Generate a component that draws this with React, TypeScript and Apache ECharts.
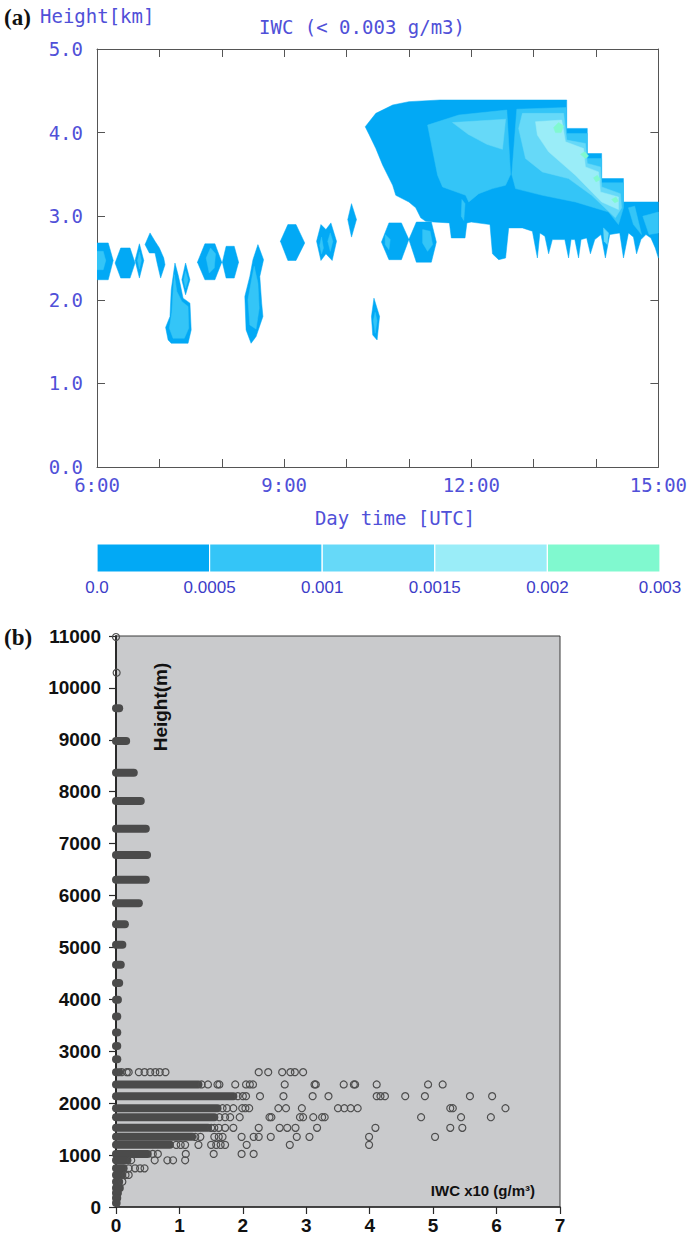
import React, { useEffect, useRef } from 'react';
import * as echarts from 'echarts';

// ---------- Panel (a): IWC contour ----------
const colorbarLabels = ['0.0', '0.0005', '0.001', '0.0015', '0.002', '0.003'];
const colorbarSegments = [0, 1, 2, 3, 4];
const levelColors = ['#02a9f5', '#34c5f7', '#66d9f8', '#9aedf8', '#80f9cf'];

// [level, [[time(h), height(km)], ...]]
const contourShapes: [number, number[][]][] = [
  // level 0 (0.0 - 0.0005)
  [0, [[6.0, 2.68], [6.18, 2.68], [6.26, 2.47], [6.18, 2.24], [6.0, 2.24]]],
  [0, [[6.29, 2.44], [6.38, 2.62], [6.53, 2.62], [6.61, 2.44], [6.53, 2.26], [6.38, 2.26]]],
  [0, [[6.68, 2.67], [6.75, 2.47], [6.68, 2.26], [6.61, 2.47]]],
  [0, [[6.85, 2.8], [6.93, 2.7], [7.0, 2.62], [7.07, 2.5], [7.09, 2.42], [7.02, 2.26], [6.97, 2.42], [6.93, 2.56], [6.84, 2.56], [6.77, 2.66]]],
  [0, [[7.25, 2.44], [7.3, 2.3], [7.33, 2.2], [7.38, 2.02], [7.49, 1.96], [7.51, 1.64], [7.46, 1.48], [7.19, 1.48], [7.14, 1.52], [7.1, 1.67], [7.17, 1.8], [7.19, 2.12]]],
  [0, [[7.42, 2.44], [7.49, 2.24], [7.42, 2.06], [7.36, 2.24]]],
  [0, [[7.61, 2.45], [7.73, 2.67], [7.89, 2.67], [8.0, 2.45], [7.89, 2.24], [7.73, 2.24]]],
  [0, [[8.01, 2.45], [8.07, 2.64], [8.2, 2.64], [8.27, 2.45], [8.2, 2.26], [8.07, 2.26]]],
  [0, [[8.58, 2.66], [8.67, 2.48], [8.61, 2.28], [8.64, 1.96], [8.66, 1.8], [8.55, 1.56], [8.47, 1.48], [8.39, 1.64], [8.37, 2.04], [8.45, 2.28], [8.5, 2.48]]],
  [0, [[8.94, 2.7], [9.06, 2.9], [9.19, 2.9], [9.33, 2.68], [9.19, 2.47], [9.06, 2.47]]],
  [0, [[9.52, 2.7], [9.59, 2.9], [9.67, 2.84], [9.75, 2.92], [9.84, 2.7], [9.77, 2.47], [9.67, 2.55], [9.59, 2.47]]],
  [0, [[10.08, 3.15], [10.16, 2.96], [10.08, 2.75], [10.02, 2.96]]],
  [0, [[10.44, 2.02], [10.53, 1.8], [10.49, 1.52], [10.42, 1.58], [10.4, 1.8]]],
  [0, [[10.56, 2.69], [10.68, 2.92], [10.88, 2.92], [11.0, 2.72], [10.88, 2.48], [10.68, 2.48]]],
  [0, [[11.0, 2.72], [11.12, 2.93], [11.36, 2.93], [11.44, 2.69], [11.36, 2.45], [11.12, 2.45]]],
  [0, [[10.3, 4.07], [10.47, 4.23], [10.74, 4.33], [11.0, 4.37], [11.5, 4.39], [13.53, 4.39], [13.53, 4.05], [13.86, 4.05], [13.86, 3.75], [14.09, 3.75], [14.09, 3.45], [14.44, 3.45], [14.44, 3.17], [15.0, 3.17], [15.0, 2.5], [14.95, 2.62], [14.88, 2.74], [14.8, 2.78], [14.72, 2.72], [14.65, 2.55], [14.6, 2.75], [14.52, 2.8], [14.44, 2.5], [14.38, 2.8], [14.22, 2.78], [14.15, 2.5], [14.08, 2.78], [13.98, 2.72], [13.91, 2.55], [13.85, 2.74], [13.76, 2.72], [13.72, 2.5], [13.66, 2.72], [13.6, 2.72], [13.56, 2.5], [13.5, 2.72], [13.3, 2.72], [13.24, 2.55], [13.18, 2.76], [13.1, 2.8], [13.06, 2.5], [12.98, 2.82], [12.82, 2.86], [12.6, 2.86], [12.55, 2.5], [12.44, 2.48], [12.34, 2.55], [12.3, 2.9], [12.0, 2.93], [11.93, 2.92], [11.9, 2.74], [11.68, 2.74], [11.65, 2.92], [11.4, 2.93], [11.27, 2.94], [11.19, 2.98], [11.11, 3.1], [11.0, 3.17], [10.79, 3.25], [10.74, 3.37], [10.58, 3.61], [10.47, 3.81], [10.36, 3.98]]],
  // level 1 (0.0005 - 0.001)
  [1, [[6.0, 2.58], [6.1, 2.58], [6.14, 2.47], [6.1, 2.36], [6.0, 2.36]]],
  [1, [[6.68, 2.57], [6.71, 2.47], [6.68, 2.37], [6.65, 2.47]]],
  [1, [[7.24, 2.3], [7.28, 2.1], [7.36, 1.98], [7.46, 1.92], [7.47, 1.66], [7.4, 1.54], [7.22, 1.54], [7.16, 1.66], [7.2, 1.85], [7.22, 2.1]]],
  [1, [[7.42, 2.34], [7.46, 2.24], [7.42, 2.14], [7.39, 2.24]]],
  [1, [[7.75, 2.5], [7.82, 2.62], [7.9, 2.55], [7.88, 2.38], [7.8, 2.32]]],
  [1, [[8.52, 2.4], [8.58, 2.2], [8.6, 1.9], [8.55, 1.65], [8.45, 1.7], [8.42, 2.0], [8.48, 2.25]]],
  [1, [[9.6, 2.75], [9.63, 2.62], [9.6, 2.55], [9.57, 2.65]]],
  [1, [[9.74, 2.8], [9.78, 2.7], [9.74, 2.58], [9.7, 2.7]]],
  [1, [[10.46, 1.85], [10.49, 1.75], [10.46, 1.6], [10.43, 1.75]]],
  [1, [[10.62, 2.78], [10.7, 2.72], [10.68, 2.6], [10.62, 2.66]]],
  [1, [[11.22, 2.84], [11.34, 2.82], [11.38, 2.66], [11.3, 2.58], [11.22, 2.68]]],
  [1, [[11.3, 4.09], [11.8, 4.21], [12.57, 4.27], [12.63, 3.5], [12.55, 3.37], [12.34, 3.33], [12.12, 3.27], [11.96, 3.17], [11.91, 3.25], [11.54, 3.35], [11.46, 3.49]]],
  [1, [[12.73, 4.28], [13.52, 4.3], [13.53, 3.99], [13.86, 3.99], [13.86, 3.69], [14.09, 3.69], [14.09, 3.4], [14.44, 3.4], [14.44, 3.1], [14.36, 2.9], [14.2, 3.05], [13.67, 3.17], [13.14, 3.25], [12.71, 3.33], [12.65, 3.5]]],
  [1, [[14.52, 3.1], [14.62, 3.12], [14.73, 2.78], [14.6, 2.9]]],
  [1, [[14.75, 3.0], [15.0, 3.05], [15.0, 2.8], [14.85, 2.78]]],
  [1, [[11.85, 3.2], [11.9, 3.15], [11.88, 2.95], [11.84, 3.0]]],
  // level 2 (0.001 - 0.0015)
  [2, [[11.7, 4.12], [12.55, 4.16], [12.5, 3.8], [12.25, 3.86], [11.95, 3.98]]],
  [2, [[12.82, 4.23], [13.48, 4.23], [13.53, 3.91], [13.83, 3.87], [13.86, 3.63], [14.07, 3.59], [14.09, 3.35], [14.39, 3.27], [14.41, 3.1], [14.31, 2.98], [13.93, 3.25], [13.56, 3.45], [13.14, 3.53], [12.87, 3.69], [12.76, 4.05]]],
  [2, [[14.12, 2.86], [14.2, 2.8], [14.18, 2.66], [14.13, 2.7]]],
  // level 3 (0.0015 - 0.002)
  [3, [[13.03, 4.13], [13.45, 4.15], [13.51, 3.89], [13.8, 3.81], [13.83, 3.59], [14.04, 3.53], [14.07, 3.29], [14.36, 3.23], [14.36, 3.08], [14.09, 3.17], [13.67, 3.49], [13.24, 3.77], [13.06, 3.97]]],
  // level 4 (0.002 - 0.003)
  [4, [[13.32, 4.06], [13.4, 4.12], [13.48, 4.08], [13.44, 4.0], [13.35, 4.0]]],
  [4, [[13.75, 3.74], [13.82, 3.77], [13.88, 3.72], [13.83, 3.69]]],
  [4, [[13.96, 3.46], [14.02, 3.49], [14.07, 3.44], [14.0, 3.41]]],
  [4, [[14.25, 3.2], [14.32, 3.23], [14.36, 3.18], [14.3, 3.16]]],
];

// ---------- Panel (b): IWC x10 vs height scatter ----------
// Dense (overlapping) runs of points: [height m, xStart, xEnd]
const denseRuns: number[][] = [
  [9607, 0, 0.05], [8978, 0, 0.16], [8367, 0, 0.28], [7822, 0, 0.39],
  [7289, 0, 0.47], [6783, 0, 0.49], [6302, 0, 0.47], [5853, 0, 0.36],
  [5449, 0, 0.14], [5050, 0, 0.1], [4665, 0, 0.075], [4313, 0, 0.05],
  [3991, 0, 0.03], [3670, 0, 0.02], [3362, 0, 0.02], [3100, 0, 0.02],
  [2844, 0, 0.02], [2598, 0, 0.05], [2361, 0, 1.3], [2135, 0, 1.85],
  [1903, 0, 1.6], [1730, 0, 1.55], [1525, 0, 1.45], [1351, 0, 1.2],
  [1197, 0, 0.85], [1023, 0, 0.5], [900, 0, 0.18], [745, 0, 0.12],
  [618, 0, 0.1], [488, 0, 0.05], [367, 0, 0.06], [270, 0, 0.03],
  [174, 0, 0.02], [77, 0, 0.01],
];

// Individually visible points: [height m, [x values]]
const sparseRows: [number, number[]][] = [
  [10980, [0]],
  [10293, [0.01]],
  [2598, [0.09, 0.17, 0.2, 0.36, 0.45, 0.54, 0.62, 0.69, 0.78, 2.25, 2.4, 2.62, 2.75, 2.82, 2.95]],
  [2361, [1.35, 1.45, 1.6, 1.63, 1.88, 2.05, 2.11, 2.16, 2.66, 3.13, 3.15, 3.59, 3.75, 3.77, 4.11, 4.92, 5.15]],
  [2135, [1.92, 2.0, 2.05, 2.27, 2.64, 3.1, 3.35, 4.11, 4.17, 4.24, 4.56, 4.87, 5.58, 5.93]],
  [1903, [1.68, 1.75, 1.85, 1.99, 2.04, 2.1, 2.56, 2.68, 2.93, 3.5, 3.6, 3.7, 3.81, 5.27, 5.31, 6.14]],
  [1730, [1.63, 1.72, 1.8, 1.95, 2.42, 2.45, 2.9, 2.95, 3.11, 3.25, 3.29, 4.81, 5.44, 5.91]],
  [1525, [1.5, 1.55, 1.62, 1.72, 1.85, 2.25, 2.58, 2.7, 2.83, 3.17, 4.09, 5.27, 5.46]],
  [1351, [1.25, 1.33, 1.55, 1.62, 1.68, 1.98, 2.17, 2.25, 2.44, 2.85, 3.05, 3.99, 5.03]],
  [1197, [0.95, 1.02, 1.09, 1.3, 1.5, 1.58, 1.65, 1.72, 2.06, 2.74, 3.99]],
  [1023, [0.58, 0.66, 1.1, 1.54, 1.98, 2.17]],
  [900, [0.24, 0.61, 0.81, 0.9, 1.09]],
  [745, [0.2, 0.3, 0.38, 0.45]],
  [618, [0.15, 0.2]],
  [488, [0.1]],
];

const blue = '#5050d8';
const mono = '"DejaVu Sans Mono", monospace';
const sans = '"Liberation Sans", Arial, sans-serif';
const serif = '"Liberation Serif", "DejaVu Serif", serif';

const frameAxisA = {
  axisLine: { show: true, onZero: false, lineStyle: { color: '#555', width: 1 } },
  axisTick: { show: true, inside: true, length: 8, lineStyle: { color: '#555', width: 1 } },
  splitLine: { show: false },
};

const App = () => {
  const ref = useRef<HTMLDivElement>(null);
  useEffect(() => {
    const chart = echarts.init(ref.current!, null, { renderer: 'svg' });
    const scatterData = sparseRows.flatMap(([h, xs]) => xs.map((x) => [x, h]));
    chart.setOption({
      animation: false,
      backgroundColor: '#ffffff',
      grid: [
        { left: 97, top: 49, width: 563, height: 418 },
        { left: 97, top: 544, width: 563, height: 28 },
        { left: 116, top: 636, width: 444, height: 571, show: true, backgroundColor: '#c9cacc', borderColor: '#3a3a3a', borderWidth: 1 },
      ],
      xAxis: [
        {
          gridIndex: 0, type: 'value', min: 6, max: 15, interval: 1, position: 'bottom', ...frameAxisA,
          axisLabel: { showMinLabel: true, showMaxLabel: true, formatter: (v: number) => (v % 3 === 0 ? `${v}:00` : ''), color: blue, fontFamily: mono, fontSize: 19, margin: 8 },
        },
        { gridIndex: 0, type: 'value', min: 6, max: 15, interval: 1, position: 'top', ...frameAxisA, axisLabel: { show: false } },
        {
          gridIndex: 1, type: 'value', min: 0, max: 5, interval: 1,
          axisLine: { show: false }, axisTick: { show: false }, splitLine: { show: false },
          axisLabel: { showMinLabel: true, showMaxLabel: true, formatter: (v: number) => colorbarLabels[v], color: '#3c3cc8', fontFamily: sans, fontSize: 17, margin: 7 },
        },
        {
          gridIndex: 2, type: 'value', min: 0, max: 7, interval: 1,
          axisLine: { show: true, onZero: false, lineStyle: { color: '#2a2a2a', width: 1.5 } },
          axisTick: { show: true, length: 7, lineStyle: { color: '#2a2a2a', width: 1.2 } },
          splitLine: { show: false },
          axisLabel: { showMinLabel: true, showMaxLabel: true, formatter: (v: number) => String(v), color: '#111', fontWeight: 'bold', fontSize: 19, fontFamily: sans, margin: 9 },
        },
      ],
      yAxis: [
        {
          gridIndex: 0, type: 'value', min: 0, max: 5, interval: 1, position: 'left', ...frameAxisA,
          axisLabel: { showMinLabel: true, showMaxLabel: true, formatter: (v: number) => v.toFixed(1), color: blue, fontFamily: mono, fontSize: 19, margin: 14 },
        },
        { gridIndex: 0, type: 'value', min: 0, max: 5, interval: 1, position: 'right', ...frameAxisA, axisLabel: { show: false } },
        { gridIndex: 1, type: 'value', min: 0, max: 1, show: false },
        {
          gridIndex: 2, type: 'value', min: 0, max: 11000, interval: 1000,
          axisLine: { show: true, onZero: false, lineStyle: { color: '#2a2a2a', width: 2 } },
          axisTick: { show: true, length: 7, lineStyle: { color: '#2a2a2a', width: 1.2 } },
          splitLine: { show: false },
          axisLabel: { showMinLabel: true, showMaxLabel: true, formatter: (v: number) => String(v), color: '#111', fontWeight: 'bold', fontSize: 19, fontFamily: sans, margin: 15 },
        },
      ],
      series: [
        {
          type: 'custom', xAxisIndex: 0, yAxisIndex: 0, clip: true,
          data: contourShapes.map((s, i) => [s[1][0][0], s[1][0][1], i]),
          encode: { x: 0, y: 1 },
          renderItem: (params: any, api: any) => {
            const [lvl, pts] = contourShapes[params.dataIndex];
            return {
              type: 'polygon',
              shape: { points: pts.map((p) => api.coord(p)) },
              style: { fill: levelColors[lvl], stroke: levelColors[lvl], lineWidth: 0.5 },
            };
          },
        },
        {
          type: 'custom', xAxisIndex: 2, yAxisIndex: 2,
          data: colorbarSegments.map((i) => [i, 0]),
          encode: { x: 0, y: 1 },
          renderItem: (params: any, api: any) => {
            const i = api.value(0);
            const p0 = api.coord([i, 1]);
            const p1 = api.coord([i + 1, 0]);
            return {
              type: 'rect',
              shape: { x: p0[0], y: p0[1], width: p1[0] - p0[0], height: p1[1] - p0[1] },
              style: { fill: levelColors[i], stroke: '#ffffff', lineWidth: 1.2 },
            };
          },
        },
        {
          type: 'custom', xAxisIndex: 3, yAxisIndex: 3,
          data: denseRuns.map((r) => [r[1], r[0], r[2]]),
          encode: { x: [0, 2], y: 1 },
          renderItem: (params: any, api: any) => {
            const a = api.coord([api.value(0), api.value(1)]);
            const b = api.coord([api.value(2), api.value(1)]);
            return {
              type: 'line',
              shape: { x1: a[0], y1: a[1], x2: b[0] + 0.01, y2: b[1] },
              style: { stroke: '#4b4b4b', lineWidth: 8, lineCap: 'round' },
            };
          },
        },
        {
          type: 'scatter', xAxisIndex: 3, yAxisIndex: 3,
          symbol: 'circle', symbolSize: 7,
          itemStyle: { color: 'rgba(201,202,204,0)', borderColor: '#4e4e4e', borderWidth: 1.2, opacity: 1 },
          data: scatterData,
        },
      ],
      graphic: [
        { type: 'text', x: 4, y: 17, style: { text: '(a)', font: `bold 23px ${serif}`, fill: '#111', align: 'left', verticalAlign: 'middle' } },
        { type: 'text', x: 40, y: 16, style: { text: 'Height[km]', font: `19px ${mono}`, fill: blue, align: 'left', verticalAlign: 'middle' } },
        { type: 'text', x: 362, y: 27, style: { text: 'IWC (< 0.003 g/m3)', font: `19px ${mono}`, fill: blue, align: 'center', verticalAlign: 'middle' } },
        { type: 'text', x: 395, y: 518, style: { text: 'Day time [UTC]', font: `19px ${mono}`, fill: blue, align: 'center', verticalAlign: 'middle' } },
        { type: 'text', x: 4, y: 637, style: { text: '(b)', font: `bold 23px ${serif}`, fill: '#111', align: 'left', verticalAlign: 'middle' } },
        { type: 'text', x: 160, y: 707, rotation: Math.PI / 2, style: { text: 'Height(m)', font: `bold 19px ${sans}`, fill: '#111', align: 'center', verticalAlign: 'middle' } },
        { type: 'text', x: 535, y: 1190, style: { text: 'IWC x10 (g/m³)', font: `bold 15px ${sans}`, fill: '#111', align: 'right', verticalAlign: 'middle' } },
      ],
    });
    return () => chart.dispose();
  }, []);
  return <div ref={ref} style={{ position: 'absolute', left: 0, top: 0, width: 690, height: 1239 }} />;
};

export default App;
